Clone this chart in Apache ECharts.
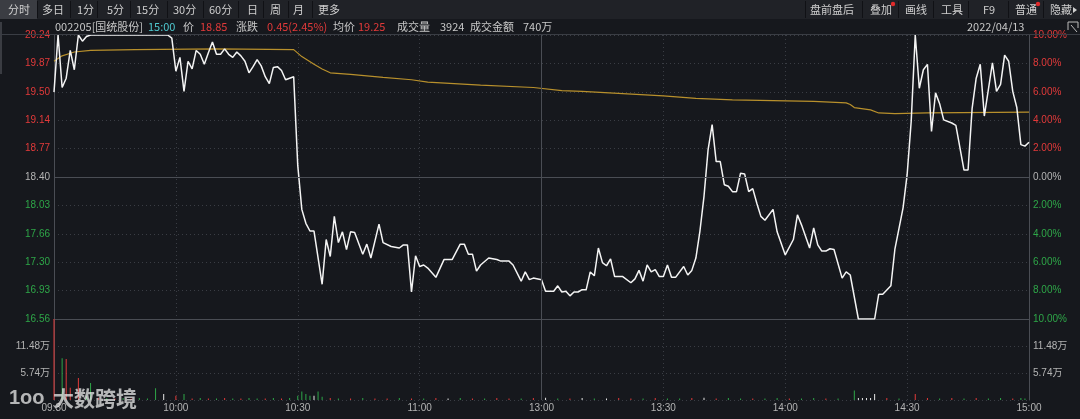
<!DOCTYPE html>
<html><head><meta charset="utf-8">
<script src="https://cdn.jsdelivr.net/npm/echarts@6/dist/echarts.min.js"></script>
<style>html,body{margin:0;padding:0;background:#16181d;}#c{width:1080px;height:419px;}</style>
</head><body><div id="c"></div>
<script>
// ---- data ----
const timeLabels = ['09:30','10:00','10:30','11:00','13:00','13:30','14:00','14:30','15:00'];
const prevClose = 18.40;
const priceMin = 16.56, priceMax = 20.24, priceStep = 0.368;
const volMax = 17.22, volStep = 5.74;

// minute index (0..240) and price
const priceMinutes = [0,1,2,3,4,5,6,7,8,9,28,29,30,31,32,33,34,35,36,37,38,39,40,41,42,43,44,45,46,47,48,49,50,51,52,53,54,55,56,57,58,59,60,61,62,63,64,66,67,68,69,70,71,72,73,74,76,77,78,80,81,83,85,86,87,88,89,90,91,92,94,96,98,100,101,102,103,104,105,107,109,110,112,113,115,116,117,118,120,121,122,123,124,125,126,127,128,129,130,131,132,133,134,135,136,137,138,140,142,143,144,145,146,147,148,149,150,151,152,153,155,156,157,158,159,160,161,162,163,164,165,166,167,168,169,170,171,172,173,174,175,177,178,180,182,183,184,186,187,188,189,190,191,192,194,195,196,198,202,203,204,206,207,209,210,211,212,213,214,215,216,217,218,219,221,222,224,225,226,227,228,229,231,232,233,234,235,236,237,238,239,240];
const priceValues = [19.50,20.24,19.56,19.68,20.04,19.79,20.24,20.16,20.22,20.24,20.24,20.20,19.77,19.95,19.51,19.90,19.80,20.04,19.99,19.86,20.01,20.15,19.99,19.99,20.06,19.99,19.95,20.02,19.97,19.90,19.75,19.83,19.92,19.84,19.70,19.61,19.82,19.83,19.78,19.66,19.68,19.70,18.55,17.98,17.80,17.70,17.70,17.01,17.59,17.37,17.89,17.55,17.69,17.46,17.69,17.68,17.40,17.53,17.35,17.79,17.55,17.50,17.48,17.52,17.52,16.91,17.38,17.24,17.26,17.22,17.10,17.33,17.33,17.53,17.53,17.40,17.40,17.18,17.26,17.35,17.33,17.31,17.31,17.26,17.05,17.17,17.07,17.09,17.07,16.92,16.92,16.92,16.99,16.91,16.92,16.86,16.91,16.91,16.94,16.94,17.17,17.12,17.48,17.29,17.25,17.34,17.11,17.11,17.03,17.08,17.19,17.05,17.26,17.17,17.20,17.11,17.11,17.26,17.10,17.10,17.24,17.13,17.19,17.35,17.70,18.15,18.75,19.08,18.60,18.60,18.30,18.28,18.21,18.21,18.45,18.44,18.21,18.25,18.06,17.89,17.84,17.98,17.69,17.39,17.59,17.91,17.78,17.48,17.74,17.52,17.44,17.44,17.47,17.46,17.09,17.17,17.13,16.56,16.56,16.88,16.88,16.99,17.47,18.00,18.43,19.12,20.24,19.55,19.79,19.86,18.99,19.49,19.35,19.14,19.10,19.07,18.49,18.49,19.29,19.68,19.86,19.19,19.88,19.51,19.60,19.98,19.90,19.51,19.30,18.82,18.80,18.85];

const avgMinutes = [0,2,5,9,20,40,59,61,64,66,68,73,81,88,92,105,118,125,130,150,158,167,187,195,196,197,201,203,207,215,240];
const avgValues  = [19.90,19.97,20.02,20.04,20.05,20.06,20.05,19.96,19.86,19.80,19.75,19.73,19.69,19.66,19.63,19.59,19.56,19.52,19.51,19.45,19.42,19.40,19.38,19.36,19.34,19.30,19.27,19.23,19.22,19.23,19.24];

// volume in 万 shares; direction 1 = up (red), -1 = down (green), 0 = flat (white)
const volMinutes = [0,2,3,4,6,8,9,11,13,15,17,19,21,23,25,27,30,32,34,36,38,40,42,44,46,48,50,52,54,56,58,60,61,62,63,64,65,66,68,70,73,76,79,82,85,88,91,94,97,100,103,106,109,112,115,118,121,124,127,130,133,136,139,142,145,148,151,154,157,160,163,166,169,172,175,178,181,184,187,190,193,197,198,199,200,201,202,205,208,212,215,218,221,224,227,230,233,236,238,239];
const volValues  = [17.2,8.9,8.7,2.6,4.7,0.8,3.6,0.5,0.4,0.3,0.4,0.3,0.4,0.3,2.5,1.3,0.9,1.3,0.3,0.4,0.3,0.3,0.4,0.3,0.3,0.4,0.3,0.3,0.4,0.3,0.4,0.9,1.8,1.3,0.9,0.9,1.8,0.7,0.4,0.3,0.3,0.4,0.3,0.3,0.4,0.3,0.3,0.4,0.3,0.4,0.3,0.3,0.4,0.3,0.3,0.4,0.5,0.3,0.3,0.4,0.3,0.3,0.4,0.3,0.3,0.4,0.3,0.3,0.4,0.5,0.3,0.4,0.3,0.3,0.3,0.4,0.3,0.3,0.4,0.3,0.3,2.0,0.4,0.4,0.4,0.4,1.3,0.4,0.3,1.3,0.4,0.3,0.4,0.3,0.4,0.3,0.4,0.3,0.4,0.3];
const volDirs    = [1,-1,1,1,1,-1,-1,1,-1,1,-1,1,-1,-1,-1,0,1,-1,1,-1,1,-1,1,-1,1,-1,-1,1,-1,1,-1,-1,-1,-1,-1,0,-1,-1,1,-1,1,-1,1,1,-1,1,-1,1,0,-1,1,-1,1,1,-1,1,0,-1,1,0,-1,0,1,1,-1,1,-1,-1,1,0,1,-1,-1,1,-1,-1,1,-1,-1,1,-1,-1,0,0,0,0,0,1,-1,1,1,-1,1,-1,1,-1,-1,1,-1,-1];

// ---- chart ----
const RED = '#e23a3a', GREEN = '#2ea648', WHITE = '#e6e6e6', GRAY = '#b4b4b4';
const FONT = '"Noto Sans CJK SC", "Liberation Sans", sans-serif';
const AXF = '"Liberation Sans", "Noto Sans CJK SC", sans-serif';
const gridLine = {color:'#3a3d44', type:[1,3], width:1};
const axisLineStyle = {color:'#4a4d54', width:1};

const pricePts = priceMinutes.map((m,i)=>[m, priceValues[i]]);
const avgPts = avgMinutes.map((m,i)=>[m, avgValues[i]]);
const volPts = volMinutes.map((m,i)=>({value:[m, volValues[i]], itemStyle:{color: volDirs[i]>0?RED:(volDirs[i]<0?GREEN:WHITE)}}));

function richColor(v){ return v > prevClose + 0.01 ? 'r' : (v < prevClose - 0.01 ? 'g' : 'n'); }
const rich = {
  r:{color:RED, fontSize:10, fontFamily:AXF},
  g:{color:GREEN, fontSize:10, fontFamily:AXF},
  n:{color:GRAY, fontSize:10, fontFamily:AXF}
};

const chart = echarts.init(document.getElementById('c'), null, {renderer:'canvas'});

const texts = [];
function t(x, y, s, color, size, extra){ texts.push(Object.assign({type:'text', x:x, y:y, style:{text:s, fill:color, font:(size||11)+'px '+FONT, textVerticalAlign:'middle'}, z:100}, extra||{})); }
// toolbar
const tabs = [['分时',8],['多日',42],['1分',77],['5分',107],['15分',136],['30分',173],['60分',209],['日',247],['周',270],['月',293],['更多',318]];
tabs.forEach(a=>t(a[1],10,a[0],'#cfcfcf',11));
const seps = [37,70,97,130,167,203,238,263,288,312,805,862,898,933,968,1008,1043];
const sepEls = seps.map(x=>({type:'rect', shape:{x:x, y:1, width:1, height:17}, style:{fill:'#101115'}, z:90}));
[['盘前盘后',810],['叠加',870],['画线',905],['工具',941],['F9',983],['普通',1015],['隐藏',1050]].forEach(a=>t(a[1],10,a[0],'#cfcfcf',11));
// info row
let ix = 55;
const info = [['002205[国统股份]','#c8c8c8',55],['15:00','#4fc8cf',148],['价','#c8c8c8',183],['18.85',RED,200],['涨跌','#c8c8c8',236],['0.45(2.45%)',RED,267],['均价','#c8c8c8',333],['19.25',RED,358],['成交量','#c8c8c8',397],['3924','#c8c8c8',440],['成交金额','#c8c8c8',470],['740万','#c8c8c8',523]];
info.forEach(a=>t(a[2],27,a[0],a[1],11));
t(967,27,'2022/04/13','#c8c8c8',11);

chart.setOption({
  backgroundColor:'#16181d',
  animation:false,
  grid:[{left:54,right:51,top:35,height:284},{left:54,right:51,top:319,height:81}],
  xAxis:[
    {gridIndex:0,type:'value',min:0,max:240,interval:30,axisLine:{show:true,lineStyle:axisLineStyle},axisTick:{show:false},axisLabel:{show:false},splitLine:{show:true,lineStyle:gridLine}},
    {gridIndex:1,type:'value',min:0,max:240,interval:30,axisLine:{show:false},axisTick:{show:false},
     axisLabel:{show:true,color:GRAY,fontSize:10,fontFamily:AXF,margin:3,formatter:v=>timeLabels[Math.round(v/30)]},splitLine:{show:true,lineStyle:gridLine}}
  ],
  yAxis:[
    {gridIndex:0,type:'value',position:'left',min:priceMin,max:priceMax,interval:priceStep,axisLine:{show:true,lineStyle:axisLineStyle},axisTick:{show:false},
     axisLabel:{margin:4,formatter:v=>'{'+richColor(v)+'|'+v.toFixed(2)+'}',rich:rich},splitLine:{show:true,lineStyle:gridLine}},
    {gridIndex:0,type:'value',position:'right',min:priceMin,max:priceMax,interval:priceStep,axisLine:{show:true,lineStyle:axisLineStyle},axisTick:{show:false},
     axisLabel:{margin:4,formatter:v=>'{'+richColor(v)+'|'+(Math.abs(v-prevClose)/prevClose*100).toFixed(2)+'%}',rich:rich},splitLine:{show:false}},
    {gridIndex:1,type:'value',position:'left',min:0,max:volMax,interval:volStep,axisLine:{show:true,lineStyle:axisLineStyle},axisTick:{show:false},
     axisLabel:{margin:4,color:GRAY,fontSize:10,fontFamily:AXF,formatter:v=>(v>0.1 && v<volMax-0.1)? v.toFixed(2)+'万':''},splitLine:{show:true,lineStyle:gridLine}},
    {gridIndex:1,type:'value',position:'right',min:0,max:volMax,interval:volStep,axisLine:{show:true,lineStyle:axisLineStyle},axisTick:{show:false},
     axisLabel:{margin:4,color:GRAY,fontSize:10,fontFamily:AXF,formatter:v=>(v>0.1 && v<volMax-0.1)? v.toFixed(2)+'万':''},splitLine:{show:false}}
  ],
  series:[
    {type:'line',xAxisIndex:0,yAxisIndex:0,data:avgPts,symbol:'none',z:3,lineStyle:{color:'#b8902c',width:1.2},
     markLine:{silent:true,symbol:'none',label:{show:false},lineStyle:{color:'#4a4d54',type:'solid',width:1},data:[{yAxis:prevClose},{xAxis:120}]}},
    {type:'line',xAxisIndex:0,yAxisIndex:0,data:pricePts,symbol:'none',z:4,lineStyle:{color:'#f4f4f4',width:1.5}},
    {type:'bar',xAxisIndex:1,yAxisIndex:2,data:volPts,barWidth:1,z:3,
     markLine:{silent:true,symbol:'none',label:{show:false},lineStyle:{color:'#4a4d54',type:'solid',width:1},data:[{xAxis:120}]}}
  ],
  graphic:[
    {type:'rect',shape:{x:0,y:0,width:1080,height:19},style:{fill:'#202227'},z:80},
    {type:'rect',shape:{x:0,y:0,width:37,height:19},style:{fill:'#3b3d43'},z:85},
    {type:'rect',shape:{x:0,y:22,width:2,height:52},style:{fill:'#3a3c42'},z:85},
    {type:'line',shape:{x1:0,y1:34.5,x2:1080,y2:34.5},style:{stroke:'#3a3d44',lineWidth:1},z:85},
    {type:'circle',shape:{cx:893,cy:4,r:2.2},style:{fill:'#e02b2b'},z:101},
    {type:'circle',shape:{cx:1038,cy:4,r:2.2},style:{fill:'#e02b2b'},z:101},
    {type:'polygon',shape:{points:[[1073,7],[1077,10],[1073,13]]},style:{fill:'#cfcfcf'},z:101},
    {type:'polyline',shape:{points:[[1068,30],[1068,22],[1078,22],[1078,28]]},style:{stroke:'#bbbbbb',fill:null,lineWidth:1},z:101},
    {type:'line',shape:{x1:1071,y1:25,x2:1077,y2:32},style:{stroke:'#bbbbbb',lineWidth:1},z:101},
    ...sepEls,
    ...texts,
    {type:'text',x:9,y:398,style:{text:'1oo',fill:'rgba(235,235,235,0.75)',font:'bold 20px "Liberation Sans", sans-serif',textVerticalAlign:'middle'},z:110},
    {type:'text',x:53,y:398,style:{text:'大数跨境',fill:'rgba(235,235,235,0.75)',font:'bold 21px "Noto Sans CJK SC", sans-serif',textVerticalAlign:'middle'},z:110}
  ]
});
</script></body></html>
